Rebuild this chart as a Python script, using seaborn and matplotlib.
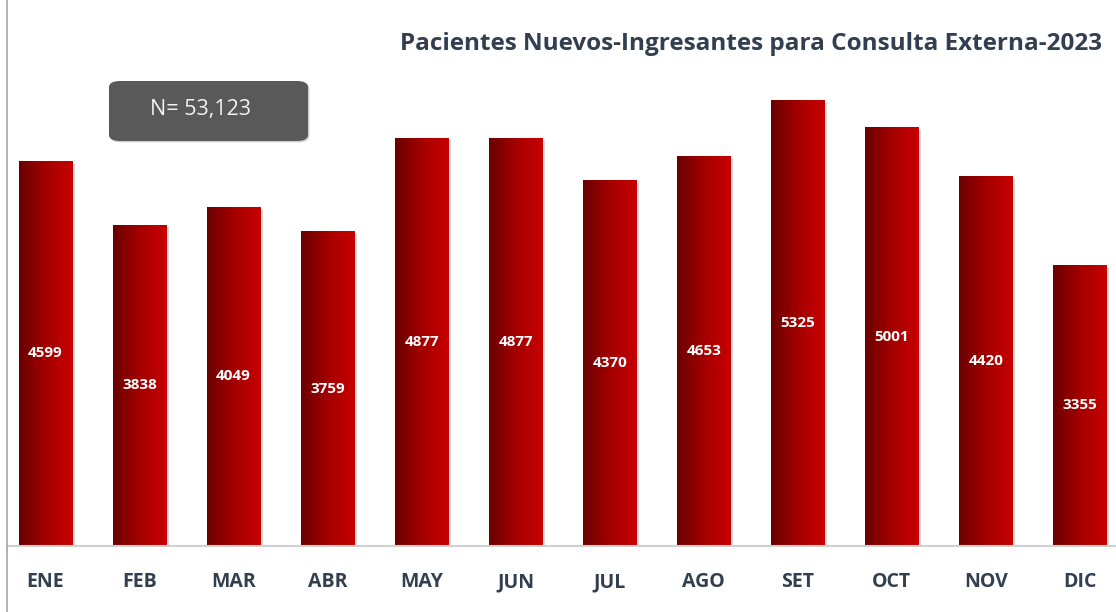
import numpy as np
import pandas as pd
import seaborn as sns
import matplotlib.pyplot as plt
from matplotlib.patches import FancyBboxPatch
from matplotlib.colors import LinearSegmentedColormap
import matplotlib.patheffects as pe

meses = ["ENE", "FEB", "MAR", "ABR", "MAY", "JUN", "JUL", "AGO", "SET", "OCT", "NOV", "DIC"]
pacientes = [4599, 3838, 4049, 3759, 4877, 4877, 4370, 4653, 5325, 5001, 4420, 3355]
titulo = "Pacientes Nuevos-Ingresantes para Consulta Externa-2023"
total_txt = "N= 53,123"

df = pd.DataFrame({"mes": meses, "valor": pacientes})

sns.set_theme(style="white")
plt.rcParams["font.family"] = ["Open Sans", "DejaVu Sans"]

W, H = 1116, 612
fig = plt.figure(figsize=(W / 100, H / 100), dpi=100)
fig.patch.set_facecolor("white")

# axes: baseline sits 66 px from the bottom
ax = fig.add_axes([0, 66 / H, 1, 1 - 66 / H])
sns.barplot(data=df, x="mes", y="valor", ax=ax, width=0.565, color="#b00000",
            saturation=1, linewidth=0)

ax.set_xlim(-0.484, 11.383)
ax.set_ylim(0, 546 / 0.08376)
ax.axis("off")

grad = LinearSegmentedColormap.from_list("rojo", ["#6a0000", "#a40000", "#c80000"])
g = np.linspace(0, 1, 256).reshape(1, -1)
for p, v in zip(ax.patches, pacientes):
    x0, w, h = p.get_x(), p.get_width(), p.get_height()
    p.set_path_effects([pe.SimplePatchShadow(offset=(2, -2), shadow_rgbFace="#999999", alpha=0.35),
                        pe.Normal()])
    im = ax.imshow(g, cmap=grad, extent=[x0, x0 + w, 0, h], aspect="auto", zorder=3)
    im.set_clip_path(p)
    ax.text(x0 + w / 2, h / 2, str(v), ha="center", va="center", color="white",
            fontsize=11, fontweight="bold", zorder=5)

# baseline
fig.add_artist(plt.Line2D([7 / W, 1], [66 / H, 66 / H], color="#d0d0d0", lw=1.5,
                          transform=fig.transFigure))

# month labels
for i, m in enumerate(meses):
    ax.text(i, -36 / 0.08376, m, ha="center", va="center", color="#333f50",
            fontsize=14, fontweight="bold")

# title
fig.text(1102 / W, 1 - 44 / H, titulo, ha="right", va="center", color="#333f50",
         fontsize=17.5, fontweight="bold")

# N box
box = FancyBboxPatch((109 / W, 1 - 141 / H), 199 / W, 60 / H,
                     boxstyle="round,pad=0,rounding_size=0.01",
                     transform=fig.transFigure, facecolor="#595959",
                     edgecolor="none",
                     path_effects=[pe.SimplePatchShadow(offset=(1, -1), shadow_rgbFace="#888888",
                                                        alpha=0.4), pe.Normal()])
fig.patches.append(box)
fig.text(200 / W, 1 - 110 / H, total_txt, ha="center", va="center",
         color="#f2f2f2", fontsize=15.5)

# left border of chart area
fig.add_artist(plt.Line2D([7 / W, 7 / W], [0, 1], color="#a6a6a6", lw=1.2,
                          transform=fig.transFigure))

fig.savefig("out.png", dpi=100)
